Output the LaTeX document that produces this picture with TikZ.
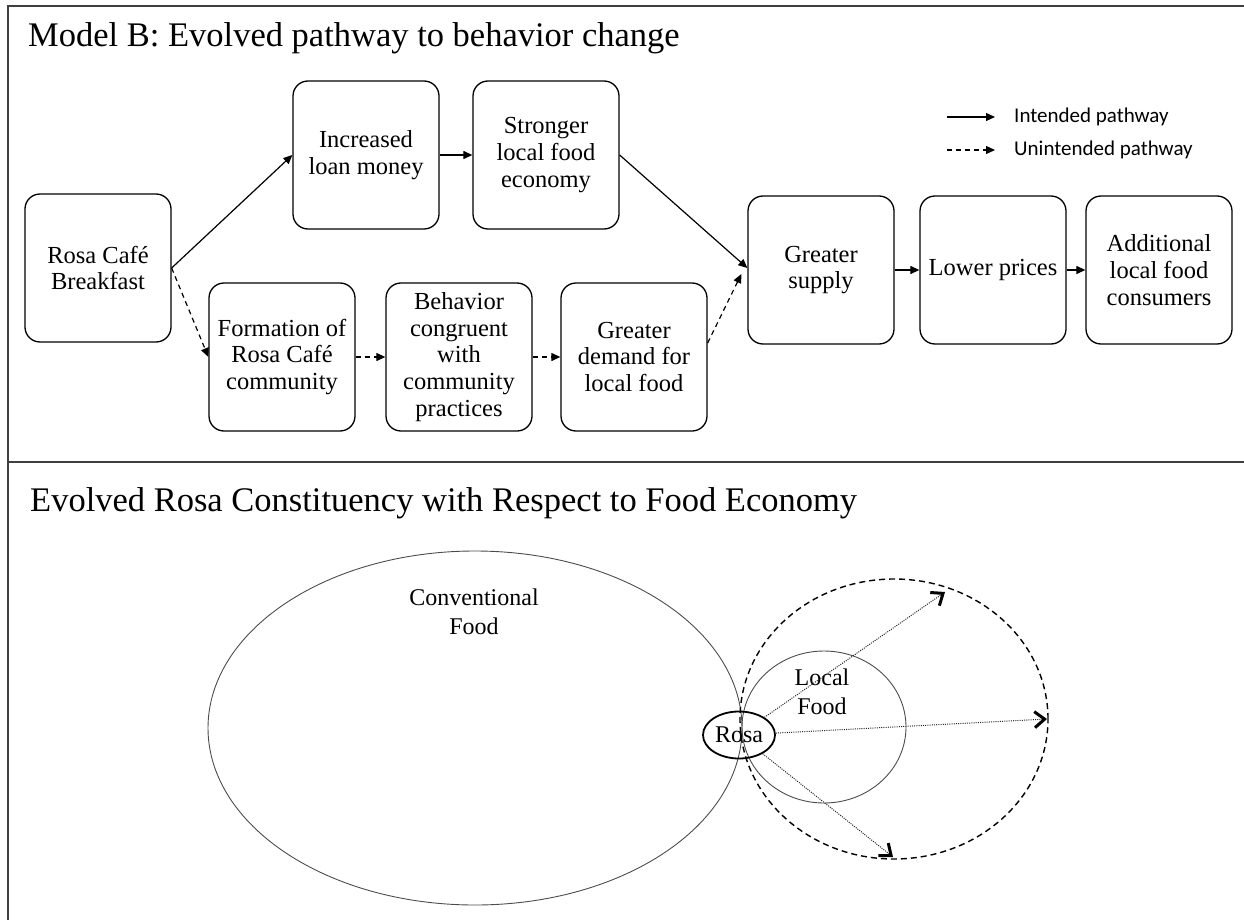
\documentclass[tikz,border=0pt]{standalone}
\usepackage{fontspec}
\setmainfont{Liberation Serif}
\newfontfamily\legendfont{Carlito}
\usetikzlibrary{arrows.meta,shapes.geometric}
\begin{document}
\begin{tikzpicture}[x=1pt,y=-1pt,
  box/.style={draw=black,line width=1.3pt,rounded corners=15pt,minimum width=146pt,minimum height=148pt,align=center,inner sep=2pt,font=\fontsize{24.5}{26.8}\selectfont},
  solidarr/.style={line width=1.2pt,-{Triangle[length=9pt,width=8pt]}},
  dasharr/.style={solidarr,dash pattern=on 5pt off 4pt},
  framestyle/.style={line width=1.5pt,draw=black!75},
  thinell/.style={line width=0.9pt,draw=black!70},
  dashell/.style={line width=1.4pt,draw=black,dash pattern=on 6pt off 4pt},
  dotarr/.style={line width=1pt,draw=black!85,dash pattern=on 1pt off 1.2pt,-{Straight Barb[length=10pt,width=16pt,line width=3pt,color=black]}},
  title/.style={anchor=base west,inner sep=0pt,font=\fontsize{34.5}{40}\selectfont},
  legend/.style={anchor=west,inner sep=0pt,font=\legendfont\fontsize{21}{24}\selectfont},
  txt/.style={align=center,inner sep=0pt,font=\fontsize{24}{29}\selectfont}
]
\useasboundingbox (0,0) rectangle (1244,920);
% frame
\draw[framestyle] (8,920) -- (8,6) -- (1244,6);
\draw[framestyle] (8,462) -- (1244,462);

% titles
\node[title] (t1) at (28,47) {Model B: Evolved pathway to behavior change};
\node[title] (t2) at (30,511) {Evolved Rosa Constituency with Respect to Food Economy};

% boxes
\node[box] (rosa)   at (98,268)  {Rosa Café\\Breakfast};
\node[box] (loan)   at (366,155) {Increased\\loan money};
\node[box] (strong) at (546,155) {Stronger\\local food\\economy};
\node[box] (form)   at (282,357) {Formation of\\Rosa Café\\community};
\node[box] (behav)  at (459,357) {Behavior\\congruent\\with\\community\\practices};
\node[box] (demand) at (634,357) {Greater\\demand for\\local food};
\node[box] (supply) at (821,270) {Greater\\supply};
\node[box] (lower)  at (993,270) {Lower prices};
\node[box] (addl)   at (1159,270) {Additional\\local food\\consumers};

% connectors
\draw[solidarr] (rosa.east) -- (loan.west);
\draw[dasharr]  (rosa.east) -- (form.west);
\draw[solidarr] (loan.east) -- (strong.west);
\draw[solidarr] (strong.east) -- ([yshift=2pt]supply.west);
\draw[dasharr]  (form.east) -- (behav.west);
\draw[dasharr]  (behav.east) -- (demand.west);
\draw[dasharr]  ([yshift=14pt]demand.east) -- ([xshift=-6pt,yshift=-4pt]supply.west);
\draw[solidarr] (supply.east) -- (lower.west);
\draw[solidarr] (lower.east) -- (addl.west);

% legend
\coordinate (la1) at (947,117);
\coordinate (lb1) at (995,117);
\coordinate (la2) at (947,150);
\coordinate (lb2) at (995,150);
\draw[solidarr] (la1) -- (lb1);
\draw[dasharr] (la2) -- (lb2);
\node[legend] (lt1) at (1014,117) {Intended pathway};
\node[legend] (lt2) at (1014,150) {Unintended pathway};

% bottom diagram
\draw[thinell] (475,728) ellipse [x radius=267pt, y radius=177pt];
\draw[thinell] (824,727) ellipse [x radius=82pt, y radius=76pt];
\draw[dashell] (894,719) ellipse [x radius=154pt, y radius=140pt];
\node[txt] (conv) at (474,612) {Conventional\\Food};
\node[txt] (local) at (822,692) {Local\\Food};
\node[ellipse,draw=black,line width=1.8pt,minimum width=72pt,minimum height=47pt,inner sep=0pt,font=\fontsize{24}{29}\selectfont] (rosaB) at (739,735) {Rosa};
\coordinate (e1) at (945,592);
\coordinate (e2) at (1047,719);
\coordinate (e3) at (893,857);
\draw[dotarr] (rosaB) -- (e1);
\draw[dotarr] (rosaB) -- (e2);
\draw[dotarr] (rosaB) -- (e3);
\end{tikzpicture}
\end{document}
